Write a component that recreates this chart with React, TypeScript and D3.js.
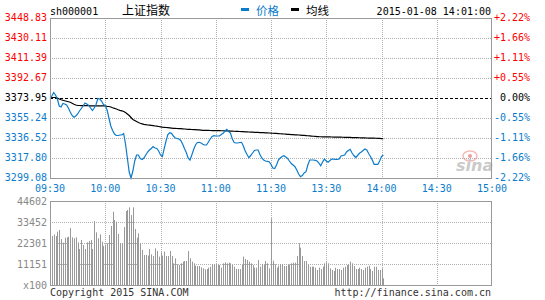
import React from 'react';
import * as d3 from 'd3';

const priceTicks = [3448.83, 3430.11, 3411.39, 3392.67, 3373.95, 3355.24, 3336.52, 3317.8, 3299.08];
const pctTicks = ['+2.22%', '+1.66%', '+1.11%', '+0.55%', '0.00%', '-0.55%', '-1.11%', '-1.66%', '-2.22%'];
const timeLabels = ['09:30', '10:00', '10:30', '11:00', '11:30', '13:30', '14:00', '14:30', '15:00'];
const volTicks = ['44602', '33452', '22301', '11151', 'x100'];
const prevClose = 3373.95;
const volMax = 44602;

const prices = [
  3373.48, 3375.82, 3379.10, 3376.76, 3373.01, 3366.46, 3365.53, 3368.80, 3368.33, 3367.40,
  3364.59, 3360.85, 3357.57, 3355.89, 3357.10, 3358.97, 3361.78, 3364.12, 3366.46, 3369.27,
  3368.33, 3366.93, 3364.59, 3362.25, 3364.59, 3367.87, 3373.48, 3373.01, 3371.14, 3367.87,
  3366.93, 3362.72, 3355.23, 3347.74, 3343.53, 3340.25, 3338.85, 3338.85, 3339.32, 3339.32,
  3340.72, 3330.89, 3317.79, 3304.69, 3299.10, 3305.62, 3314.98, 3320.60, 3320.60, 3317.32,
  3316.39, 3317.79, 3320.60, 3323.41, 3325.28, 3326.68, 3328.55, 3327.15, 3326.68, 3324.34,
  3320.60, 3319.01, 3326.68, 3333.70, 3339.79, 3341.47, 3340.91, 3338.38, 3336.51, 3336.04,
  3335.57, 3334.17, 3330.89, 3326.68, 3322.94, 3317.79, 3315.92, 3320.60, 3325.75, 3329.96,
  3332.30, 3332.49, 3331.83, 3330.61, 3329.96, 3329.96, 3332.77, 3335.57, 3337.91, 3338.66,
  3338.38, 3338.38, 3338.38, 3339.79, 3340.91, 3343.06, 3344.65, 3342.59, 3341.19, 3335.57,
  3332.30, 3331.83, 3331.83, 3332.30, 3332.49, 3329.02, 3324.34, 3321.07, 3318.07, 3320.13,
  3322.47, 3324.81, 3325.28, 3325.28, 3321.07, 3317.79, 3315.92, 3314.98, 3314.70, 3314.33,
  3311.71, 3308.43, 3307.96, 3311.24, 3315.92, 3317.79, 3319.19, 3319.94, 3318.73, 3317.51,
  3314.98, 3312.64, 3311.24, 3309.65, 3306.56, 3302.81, 3300.29, 3301.41, 3303.75, 3304.97,
  3311.24, 3315.92, 3315.92, 3315.92, 3315.64, 3314.98, 3313.11, 3310.58, 3314.05, 3316.85,
  3314.98, 3313.77, 3315.45, 3316.85, 3316.67, 3316.57, 3316.57, 3316.85, 3319.66, 3320.13,
  3320.60, 3323.41, 3324.81, 3325.93, 3322.47, 3320.13, 3318.26, 3320.13, 3322.19, 3323.41,
  3324.81, 3326.21, 3325.28, 3322.00, 3319.19, 3315.92, 3311.89, 3311.89, 3311.89, 3314.98,
  3319.19, 3320.60,
];

const avgPrices = [
  3373.67, 3374.42, 3374.42, 3374.42, 3373.95, 3373.01, 3372.36, 3371.89, 3371.42, 3370.95,
  3370.49, 3369.93, 3369.08, 3368.15, 3367.40,
  3366.93, 3366.95, 3366.90, 3366.85, 3366.88, 3366.80, 3366.75, 3366.60, 3366.55, 3366.52,
  3366.58, 3366.62, 3366.65, 3366.60, 3366.55, 3366.48,
  3366.20, 3365.99, 3365.53, 3364.87, 3364.31, 3363.65, 3363.00, 3362.44, 3361.97, 3361.31,
  3360.38, 3358.97, 3357.57, 3355.70, 3353.83, 3352.89, 3351.95, 3351.02, 3350.27, 3349.80,
  3349.33, 3349.05, 3348.68, 3348.49, 3348.30, 3348.02, 3347.74, 3347.55, 3347.27, 3346.99,
  3346.71, 3346.52, 3346.34, 3346.15, 3345.96, 3345.78, 3345.59, 3345.50, 3345.40, 3345.31,
  3345.22, 3345.12, 3344.94, 3344.75, 3344.65, 3344.56, 3344.47, 3344.37, 3344.28, 3344.19,
  3344.09, 3343.90, 3343.72,
  3343.68, 3343.64, 3343.60, 3343.55, 3343.50, 3343.46, 3343.42, 3343.39, 3343.35, 3343.31,
  3343.28, 3343.24, 3343.18, 3343.10, 3343.02, 3342.94, 3342.85, 3342.76, 3342.68, 3342.60,
  3342.50, 3342.41,
  3342.33, 3342.24, 3342.15, 3342.05, 3341.96, 3341.87, 3341.80, 3341.72, 3341.64, 3341.56, 3341.47,
  3341.38, 3341.28, 3341.18, 3341.08, 3340.98, 3340.88, 3340.76, 3340.64, 3340.52, 3340.40, 3340.25,
  3340.12, 3339.99, 3339.86, 3339.74, 3339.62, 3339.50, 3339.40, 3339.32,
  3339.20, 3339.05, 3338.90, 3338.75, 3338.60, 3338.46, 3338.32, 3338.18, 3338.03, 3337.88, 3337.73,
  3337.70, 3337.66, 3337.62, 3337.58, 3337.54, 3337.50, 3337.46, 3337.42, 3337.38, 3337.34,
  3337.30, 3337.26, 3337.21, 3337.17,
  3337.12, 3337.07, 3337.02, 3336.96, 3336.90, 3336.84, 3336.78, 3336.73, 3336.68, 3336.62,
  3336.56, 3336.50, 3336.45, 3336.40, 3336.35, 3336.31, 3336.27, 3336.23,
  3336.10, 3335.95, 3335.80,
];

const volumes = [
  26020, 26020, 26900, 26020, 28320, 29200, 24430, 22480, 25130, 25310,
  25660, 30270, 25310, 24780, 25310, 22660, 19120, 23900, 21240, 19120,
  22660, 23360, 23900, 19120, 33980, 27970, 24780, 26900, 23010, 20710,
  21420, 22130, 26550, 31330, 38940, 34520, 33630, 27080, 22130, 22130,
  30800, 39290, 39830, 41240, 37170, 41240, 29740, 25130, 27440, 22130,
  18590, 15930, 15930, 15580, 19120, 16280, 15400, 19470, 18050, 15050,
  17350, 15580, 17700, 15400, 15400, 18050, 15400, 11500, 14160, 10970,
  10620, 11500, 12390, 12740, 12740, 18050, 14160, 12390, 11500, 10270,
  10090, 10090, 9380, 8850, 8320, 8500, 9200, 9740, 10970, 10970,
  10970, 10620, 10620, 9200, 11500, 12040, 11500, 11860, 11500, 10620,
  9740, 8500, 8500, 8500, 10620, 15050, 13810, 13280, 12390, 11500,
  10620, 9200, 9200, 13280, 9740, 11150, 10620, 12740, 11500, 8850,
  35400, 12920, 10970, 9200, 10270, 10970, 10970, 10090, 10090, 10620,
  10970, 11500, 11860, 11860, 15400, 22130, 19820, 15400, 12740, 12740,
  10970, 9740, 9740, 9740, 9200, 7970, 9200, 8500, 9740, 11500,
  12040, 11500, 8850, 7970, 7430, 9200, 8500, 8500, 7970, 9200,
  9740, 10620, 10970, 12390, 11500, 10090, 8500, 8500, 9200, 8500,
  7970, 9200, 9740, 10270, 8500, 7430, 9740, 9740, 7970, 7970,
  8850, 3540,
];

const W = 545;
const H = 300;
const L = 50;
const R = 492;
const PT = 18;
const PB = 178;
const VT = 201;
const VB = 285;
const MONO = 'DejaVu Sans Mono, monospace';
const BLUE = '#0b7ccb';
const RED = '#ff0000';
const GRAY = '#999999';
const GRID = '#b0b0b0';

export default function App() {
  const x = d3.scaleLinear().domain([0, 240]).range([L, R]);
  const y = d3.scaleLinear().domain([priceTicks[priceTicks.length - 1], priceTicks[0]]).range([PB, PT]);
  const yv = d3.scaleLinear().domain([0, volMax]).range([VB, VT]);
  const gridXs = d3.range(0, 241, 30).map((m) => Math.round(x(m)) + 0.5);
  const priceLine = d3.line<number>().x((_, i) => x(i)).y((d) => y(d))(prices) || '';
  const avgLine = d3.line<number>().x((_, i) => x(i)).y((d) => y(d))(avgPrices) || '';
  const volGridYs = d3.range(1, 4).map((k) => Math.round(yv((volMax * k) / 4)) + 0.5);

  const labelColor = (i: number) => (i < 4 ? RED : i === 4 ? '#000' : BLUE);

  return (
    <svg
      width={W}
      height={H}
      style={{ position: 'absolute', left: 0, top: 0, background: '#fff' }}
      fontFamily={MONO}
    >
      <rect x={0} y={0} width={W} height={H} fill="#fff" />
      {/* header */}
      <text x={L} y={15} fontSize={10} fill="#000">sh000001</text>
      <text x={122} y={15} fontSize={12} fill="#000" fontFamily="Noto Sans CJK SC">上证指数</text>
      <rect x={241} y={8} width={8} height={3} fill={BLUE} />
      <text x={256} y={15} fontSize={11.5} fill={BLUE} fontFamily="Noto Sans CJK SC">价格</text>
      <rect x={291} y={8} width={8} height={3} fill="#000" />
      <text x={306} y={15} fontSize={11.5} fill="#000" fontFamily="Noto Sans CJK SC">均线</text>
      <text x={491} y={15} fontSize={10} fill="#000" textAnchor="end">2015-01-08 14:01:00</text>

      {/* price grid */}
      {priceTicks.map((p, i) => {
        const yy = Math.round(y(p)) + 0.5;
        if (i === 0 || i === priceTicks.length - 1) return null;
        if (p === prevClose) return null;
        return <line key={'hg' + i} x1={L} x2={R} y1={yy} y2={yy} stroke={GRID} strokeDasharray="1,1" />;
      })}
      {gridXs.slice(1, -1).map((gx, i) => (
        <line key={'vg' + i} x1={gx} x2={gx} y1={PT} y2={PB} stroke={GRID} strokeDasharray="1,1" />
      ))}

      {/* watermark */}
      <g opacity={0.55}>
        <ellipse cx={470} cy={156} rx={7} ry={5} fill="none" stroke="#f08080" strokeWidth={1.5} />
        <circle cx={470} cy={156} r={2} fill="#e05050" />
        <text x={456} y={171} fontSize={16} fontStyle="italic" fontWeight="bold" fill="#a0a0a0" fontFamily="DejaVu Sans">sina</text>
      </g>

      {/* prev close dashed */}
      <line x1={L} x2={R} y1={Math.round(y(prevClose)) + 0.5} y2={Math.round(y(prevClose)) + 0.5} stroke="#000" strokeDasharray="3,2" />

      {/* lines */}
      <path d={avgLine} fill="none" stroke="#000" strokeWidth={1.2} />
      <path d={priceLine} fill="none" stroke={BLUE} strokeWidth={1.2} />

      {/* price frame */}
      <rect x={L + 0.5} y={PT + 0.5} width={R - L - 1} height={PB - PT} fill="none" stroke={GRAY} strokeWidth={1} />

      {/* left labels */}
      {priceTicks.map((p, i) => (
        <text key={'pl' + i} x={47} y={Math.round(y(p)) + 3} fontSize={10} fill={labelColor(i)} textAnchor="end">
          {p.toFixed(2)}
        </text>
      ))}
      {/* right labels */}
      {pctTicks.map((t, i) => (
        <text key={'pr' + i} x={t.startsWith('0') ? 500 : 494} y={Math.round(y(priceTicks[i])) + 3} fontSize={10} fill={labelColor(i)}>
          {t}
        </text>
      ))}
      {/* time labels */}
      {timeLabels.map((t, i) => (
        <text key={'tl' + i} x={x(i * 30)} y={192} fontSize={10} fill={BLUE} textAnchor="middle">
          {t}
        </text>
      ))}

      {/* volume grid */}
      {volGridYs.map((gy, i) => (
        <line key={'vhg' + i} x1={L} x2={R} y1={gy} y2={gy} stroke={GRID} strokeDasharray="1,1" />
      ))}
      {gridXs.slice(1, -1).map((gx, i) => (
        <line key={'vvg' + i} x1={gx} x2={gx} y1={VT} y2={VB} stroke={GRID} strokeDasharray="1,1" />
      ))}
      {/* volume bars */}
      {volumes.map((v, i) => {
        const bx = Math.round(x(i)) + 0.5;
        return <line key={'vb' + i} x1={bx} x2={bx} y1={yv(v)} y2={VB} stroke={GRAY} strokeWidth={1} />;
      })}
      <rect x={L + 0.5} y={VT + 0.5} width={R - L - 1} height={VB - VT} fill="none" stroke={GRAY} strokeWidth={1} />
      {volTicks.map((t, i) => (
        <text key={'vl' + i} x={47} y={VT + i * ((VB - VT) / 4) + 3.5} fontSize={10} fill="#888" textAnchor="end">
          {t}
        </text>
      ))}

      {/* footer */}
      <text x={L} y={296} fontSize={10} fill="#333">Copyright 2015 SINA.COM</text>
      <text x={491} y={296} fontSize={10} fill="#333" textAnchor="end">http://finance.sina.com.cn</text>
    </svg>
  );
}
